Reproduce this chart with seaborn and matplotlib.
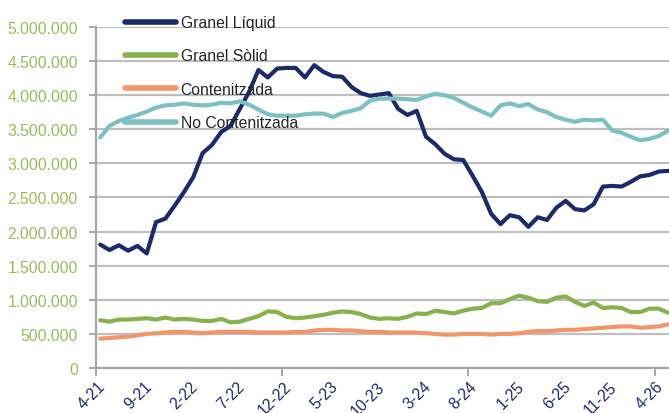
import matplotlib
matplotlib.use("Agg")
import matplotlib.pyplot as plt
import matplotlib.transforms as mtransforms
import seaborn as sns
import pandas as pd
import numpy as np

# Monthly series, April 2021 onward (values in millions of tonnes)
months = [f"{(3 + i) % 12 + 1}-{21 + (3 + i) // 12}" for i in range(62)]

granel_liquid = [
    1.81, 1.73, 1.80, 1.72, 1.79, 1.68, 2.14, 2.19, 2.38, 2.58,
    2.80, 3.15, 3.27, 3.46, 3.55, 3.80, 4.05, 4.37, 4.26, 4.39,
    4.40, 4.40, 4.26, 4.44, 4.34, 4.28, 4.27, 4.12, 4.03, 3.99,
    4.01, 4.03, 3.80, 3.71, 3.77, 3.39, 3.28, 3.14, 3.06, 3.05,
    2.82, 2.58, 2.26, 2.11, 2.24, 2.21, 2.07, 2.21, 2.17, 2.35,
    2.45, 2.33, 2.31, 2.40, 2.66, 2.67, 2.66, 2.73, 2.81, 2.83,
    2.88, 2.89,
]
granel_solid = [
    0.70, 0.68, 0.71, 0.71, 0.72, 0.73, 0.71, 0.74, 0.71, 0.72,
    0.71, 0.69, 0.69, 0.72, 0.67, 0.68, 0.72, 0.76, 0.83, 0.82,
    0.75, 0.73, 0.74, 0.76, 0.78, 0.81, 0.83, 0.82, 0.79, 0.74,
    0.72, 0.73, 0.72, 0.75, 0.80, 0.79, 0.84, 0.82, 0.80, 0.84,
    0.87, 0.88, 0.95, 0.95, 1.01, 1.06, 1.03, 0.98, 0.97, 1.03,
    1.05, 0.97, 0.91, 0.96, 0.88, 0.89, 0.88, 0.82, 0.82, 0.87,
    0.87, 0.81,
]
contenitzada = [
    0.43, 0.44, 0.45, 0.46, 0.48, 0.50, 0.51, 0.52, 0.53, 0.53,
    0.52, 0.51, 0.52, 0.53, 0.53, 0.53, 0.53, 0.52, 0.52, 0.52,
    0.52, 0.53, 0.53, 0.55, 0.56, 0.56, 0.55, 0.55, 0.54, 0.53,
    0.53, 0.52, 0.52, 0.52, 0.52, 0.51, 0.50, 0.49, 0.49, 0.50,
    0.50, 0.50, 0.49, 0.50, 0.50, 0.51, 0.53, 0.54, 0.54, 0.55,
    0.56, 0.56, 0.57, 0.58, 0.59, 0.60, 0.61, 0.61, 0.59, 0.60,
    0.61, 0.64,
]
no_contenitzada = [
    3.38, 3.55, 3.62, 3.67, 3.71, 3.76, 3.82, 3.85, 3.86, 3.88,
    3.86, 3.85, 3.86, 3.89, 3.88, 3.91, 3.86, 3.79, 3.72, 3.70,
    3.70, 3.70, 3.72, 3.73, 3.73, 3.68, 3.74, 3.77, 3.81, 3.92,
    3.95, 3.95, 3.95, 3.94, 3.93, 3.98, 4.02, 4.00, 3.96, 3.89,
    3.82, 3.76, 3.70, 3.85, 3.88, 3.84, 3.87, 3.79, 3.75, 3.68,
    3.64, 3.61, 3.64, 3.63, 3.64, 3.48, 3.45, 3.39, 3.34, 3.36,
    3.40, 3.48,
]

series_names = ["Granel Líquid", "Granel Sòlid", "Contenitzada", "No Contenitzada"]
series_values = [granel_liquid, granel_solid, contenitzada, no_contenitzada]
series_colors = ["#1B2A6B", "#86B24B", "#F2956A", "#7BC1C2"]

y_ticks = list(range(0, 5_000_001, 500_000))

rows = []
for name, vals in zip(series_names, series_values):
    for i, v in enumerate(vals):
        rows.append({"idx": i, "mes": months[i], "serie": name, "valor": v * 1_000_000})
df = pd.DataFrame(rows)

sns.set_style("white")
plt.rcParams["font.family"] = ["Liberation Sans", "DejaVu Sans"]

fig = plt.figure(figsize=(6.69, 4.14), dpi=100)
ax = fig.add_axes([0.1435, 0.1087, 0.8565, 0.8237])

sns.lineplot(
    data=df, x="idx", y="valor", hue="serie", hue_order=series_names,
    palette=dict(zip(series_names, series_colors)), linewidth=3.0,
    ax=ax, legend=True, zorder=3,
)
for ln in ax.get_lines():
    ln.set_solid_joinstyle("round")
    ln.set_solid_capstyle("round")

# Axes limits and gridlines
ax.set_xlim(-0.45, 61.1)
ax.set_ylim(0, 5_000_000)
ax.set_yticks(y_ticks)
ax.set_yticklabels([f"{t:,}".replace(",", ".") for t in y_ticks])
ax.yaxis.grid(True, color="#BFBFBF", linewidth=1.6, zorder=0)
ax.xaxis.grid(False)
ax.set_axisbelow(True)
ax.tick_params(axis="y", colors="#9BBB59", labelsize=11.3, length=5,
               width=1.4, pad=8, direction="out", left=True)
ax.tick_params(axis="y", which="both", color="#A6A6A6")

# Category boundary tick marks every 20 months; labels every 5 months
ax.set_xticks([k * 20 - 0.45 for k in range(4)])
ax.set_xticklabels([])
ax.tick_params(axis="x", which="major", length=6, width=1.4, color="#A6A6A6",
               bottom=True, direction="out")
ax.set_xticks(list(range(0, 61, 5)), minor=True)
ax.set_xticklabels([months[i] for i in range(0, 61, 5)], minor=True,
                   rotation=45, ha="right", rotation_mode="anchor")
ax.tick_params(axis="x", which="minor", length=0, pad=7.5, labelsize=11.3,
               labelcolor="#1B2A6B")
shift = mtransforms.ScaledTranslation(-3 / 100, 0, fig.dpi_scale_trans)
for lbl in ax.xaxis.get_minorticklabels():
    lbl.set_transform(lbl.get_transform() + shift)

for side in ["top", "right"]:
    ax.spines[side].set_visible(False)
for side in ["left", "bottom"]:
    ax.spines[side].set_color("#A6A6A6")
    ax.spines[side].set_linewidth(1.6)

ax.set_xlabel("")
ax.set_ylabel("")

handles, labels = ax.get_legend_handles_labels()
for h in handles:
    h.set_linewidth(4.0)
    h.set_solid_capstyle("round")
ax.legend(
    handles, labels, loc="upper left",
    bbox_to_anchor=(125 / 669, 1 - 16 / 414), bbox_transform=fig.transFigure,
    frameon=False, fontsize=11.3, handlelength=3.25, handletextpad=0.3,
    labelspacing=1.17, borderpad=0, borderaxespad=0,
)

fig.savefig("out.png", dpi=100)
